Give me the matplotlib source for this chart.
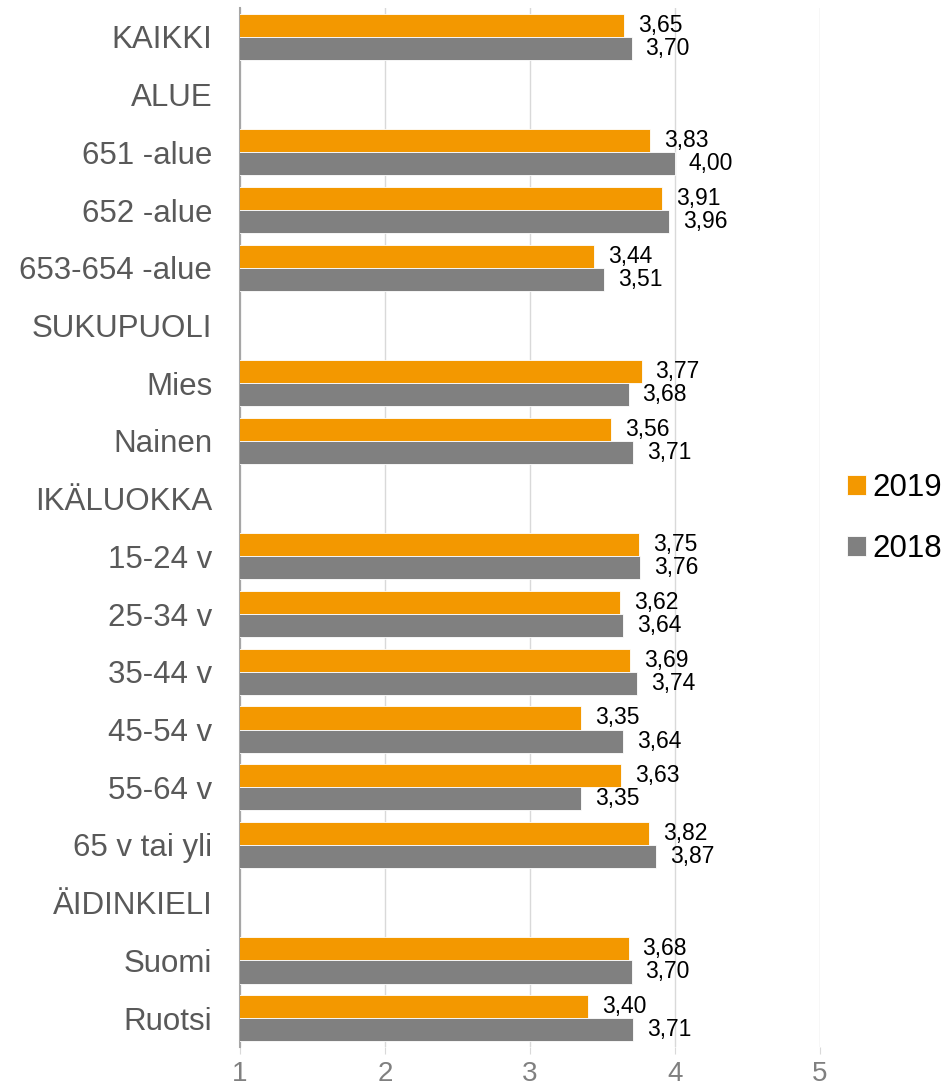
import matplotlib.pyplot as plt
import numpy as np

plt.rcParams['font.family'] = ['Liberation Sans', 'DejaVu Sans']

# Data (header rows have no values)
categories = ['KAIKKI', 'ALUE', '651 -alue', '652 -alue', '653-654 -alue',
              'SUKUPUOLI', 'Mies', 'Nainen', 'IKÄLUOKKA', '15-24 v', '25-34 v',
              '35-44 v', '45-54 v', '55-64 v', '65 v tai yli', 'ÄIDINKIELI',
              'Suomi', 'Ruotsi']
v2019 = [3.65, None, 3.83, 3.91, 3.44, None, 3.77, 3.56, None, 3.75, 3.62,
         3.69, 3.35, 3.63, 3.82, None, 3.68, 3.40]
v2018 = [3.70, None, 4.00, 3.96, 3.51, None, 3.68, 3.71, None, 3.76, 3.64,
         3.74, 3.64, 3.35, 3.87, None, 3.70, 3.71]
xticks = [1, 2, 3, 4, 5]

c2019 = '#F39800'
c2018 = '#808080'

fig = plt.figure(figsize=(9.48, 10.91), dpi=100)
ax = fig.add_axes([240 / 948, 44 / 1091, 580 / 948, 1039 / 1091])

y = np.arange(len(categories))
h = 0.4
a19 = np.array([np.nan if v is None else v for v in v2019])
a18 = np.array([np.nan if v is None else v for v in v2018])

ax.barh(y - h / 2, np.nan_to_num(a19), height=h, color=c2019,
        edgecolor='white', linewidth=0.6, label='2019', zorder=3)
ax.barh(y + h / 2, np.nan_to_num(a18), height=h, color=c2018,
        edgecolor='white', linewidth=0.6, label='2018', zorder=3)

# value labels
for yi, v in zip(y, v2019):
    if v is not None:
        ax.annotate(f'{v:.2f}'.replace('.', ','), (v, yi - h / 2),
                    xytext=(10, 0), textcoords='offset points',
                    va='center', ha='left', fontsize=16.5, color='black')
for yi, v in zip(y, v2018):
    if v is not None:
        ax.annotate(f'{v:.2f}'.replace('.', ','), (v, yi + h / 2),
                    xytext=(10, 0), textcoords='offset points',
                    va='center', ha='left', fontsize=16.5, color='black')

ax.set_xlim(1, 5)
ax.set_ylim(len(categories) - 0.5, -0.5)
ax.set_xticks(xticks)
ax.set_xticklabels([str(t) for t in xticks])
ax.set_yticks(y)
ax.set_yticklabels(categories)

ax.grid(axis='x', color='#d9d9d9', linewidth=1, zorder=0)
ax.set_axisbelow(True)

for s in ['top', 'right', 'bottom']:
    ax.spines[s].set_visible(False)
ax.spines['left'].set_color('#a6a6a6')
ax.spines['left'].set_linewidth(1.5)

ax.tick_params(axis='y', length=0, pad=20, labelsize=22.5, labelcolor='#595959')
ax.tick_params(axis='x', length=5, color='#d9d9d9', pad=5, labelsize=20,
               labelcolor='#808080')

leg = fig.legend(loc='center left', bbox_to_anchor=(847 / 948, 0.525),
                 frameon=False, fontsize=22.5, handlelength=0.6,
                 handleheight=0.6, handletextpad=0.2, labelspacing=1.0,
                 borderpad=0, borderaxespad=0)

fig.savefig('out.png', dpi=100)
